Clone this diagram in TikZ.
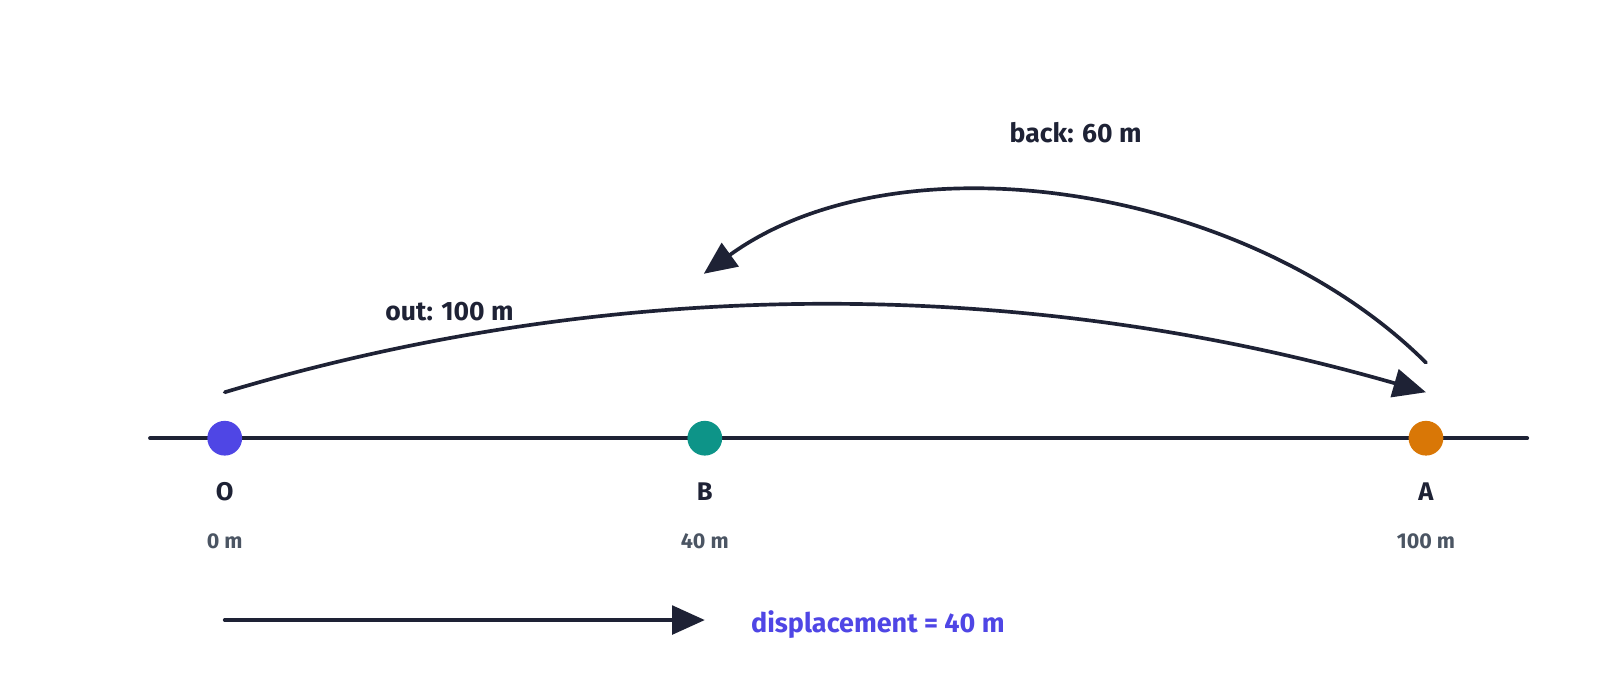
\documentclass[tikz,border=0pt]{standalone}
\usepackage{fontspec}
\setmainfont{Fira Sans}
\usetikzlibrary{arrows.meta}
\definecolor{ink}{HTML}{1E2235}
\definecolor{dotO}{HTML}{4F46E5}
\definecolor{dotB}{HTML}{0D9488}
\definecolor{dotA}{HTML}{D97706}
\definecolor{valgrey}{HTML}{4B5563}
\tikzset{
  axisline/.style={ink, line width=2pt, line cap=round},
  arc/.style={ink, line width=1.8pt, line cap=round, -{Triangle[length=16pt,width=14pt]}},
  pointdot/.style={circle, inner sep=0pt, minimum size=17pt},
  ptlabel/.style={text=ink, font=\fontsize{12.5}{14}\selectfont\bfseries},
  valuelabel/.style={text=valgrey, font=\fontsize{10.5}{12}\selectfont\bfseries},
  arclabel/.style={text=ink, font=\fontsize{13}{15}\selectfont\bfseries},
}
\begin{document}
\begin{tikzpicture}[x=0.5pt, y=-0.5pt]
\useasboundingbox (0,0) rectangle (1566.4,660.8);
% axis
\coordinate (L) at (147,429);
\coordinate (R) at (1495,429);
\draw[axisline] (L) -- (R);
% points
\node[pointdot, fill=dotO] (O) at (220,429) {};
\node[pointdot, fill=dotB] (B) at (690,429) {};
\node[pointdot, fill=dotA] (A) at (1396,429) {};
\node[ptlabel] (Olab) at (220,481) {O};
\node[ptlabel] (Blab) at (690,481) {B};
\node[ptlabel] (Alab) at (1396,481) {A};
\node[valuelabel] (Oval) at (220,530) {0 m};
\node[valuelabel] (Bval) at (690,530) {40 m};
\node[valuelabel] (Aval) at (1396,530) {100 m};
% out arc
\coordinate (outS) at (220,384);
\coordinate (outE) at (1396,384);
\draw[arc] (outS) .. controls (600,270) and (1000,270) .. (outE);
\node[arclabel] (outlab) at (440,305) {out: 100 m};
% back arc
\coordinate (backS) at (1396,355);
\coordinate (backE) at (689,268);
\draw[arc] (backS) .. controls (1220,180) and (880,130) .. (backE);
\node[arclabel] (backlab) at (1053,130) {back: 60 m};
% displacement
\coordinate (dS) at (220,607);
\coordinate (dE) at (690,607);
\draw[arc] (dS) -- (dE);
\node[anchor=west, inner sep=0pt, text=dotO, font=\fontsize{13.2}{15}\selectfont\bfseries] (displab) at (735,611) {displacement = 40 m};
\end{tikzpicture}
\end{document}
